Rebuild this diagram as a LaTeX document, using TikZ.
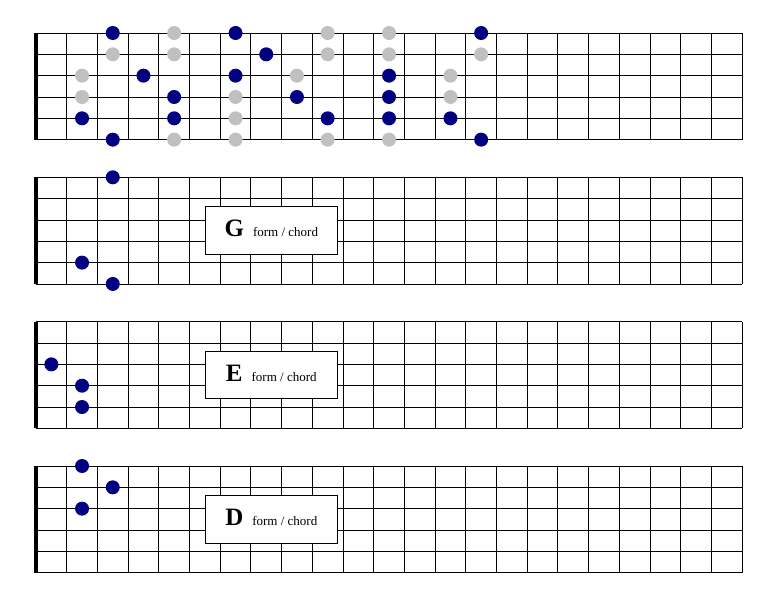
\documentclass[tikz,border=0pt]{standalone}
\usepackage{fontspec}
\setmainfont{Liberation Serif}
\usetikzlibrary{calc}
\definecolor{navy}{RGB}{0,0,128}
\definecolor{silver}{RGB}{192,192,192}
\tikzset{
  root/.style={fill=navy},
  other/.style={fill=silver},
  formbox/.style={draw, fill=white, line width=0.8pt, minimum width=132.7pt,
    minimum height=47.6pt, inner sep=0pt, text height=17pt, text depth=4.6pt},
}

\begin{document}
\begin{tikzpicture}[x=1pt,y=-1pt,line width=0.9pt]
  \useasboundingbox (0,0) rectangle (780,600);
  % four fretboards: 23 frets, 6 strings
  \foreach \n/\y in {1/33,2/177.3,3/321.7,4/466} {
    \foreach \s in {0,...,5}
      \draw (36,\y+21.33*\s) -- (742.1,\y+21.33*\s);
    \foreach \f in {1,...,23}
      \draw (36+30.7*\f,\y) -- (36+30.7*\f,\y+106.65);
    \draw[line width=4pt] (36,\y) -- (36,\y+106.65);
    % dot places: board-fret-string
    \foreach \f in {1,...,15}
      \foreach \s in {1,...,6}
        \coordinate (p\n-\f-\s) at (36+30.7*\f-15.35,\y+21.33*\s-21.33);
  }

  % whole scale
  \foreach \p in {5-1,10-1,12-1,3-2,5-2,10-2,12-2,15-2,2-3,9-3,14-3,
                  2-4,7-4,14-4,7-5,5-6,7-6,10-6,12-6}
    \fill[other] (p1-\p) circle (7);
  \foreach \p in {3-1,7-1,15-1,8-2,4-3,7-3,12-3,5-4,9-4,12-4,
                  2-5,5-5,10-5,12-5,14-5,3-6,15-6}
    \fill[root] (p1-\p) circle (7);

  % chord forms
  \foreach \p in {2-3-1,2-2-5,2-3-6,3-1-3,3-2-4,3-2-5,4-2-1,4-3-2,4-2-3}
    \fill[root] (p\p) circle (7);

  \foreach \n/\y/\k in {2/177.3/G,3/321.7/E,4/466/D}
    \node[formbox] (form\k) at (271.3,\y+53.3)
      {\fontsize{25}{25}\selectfont\bfseries \k\hspace{9pt}%
       \mdseries\fontsize{13}{13}\selectfont form / chord};
\end{tikzpicture}
\end{document}
